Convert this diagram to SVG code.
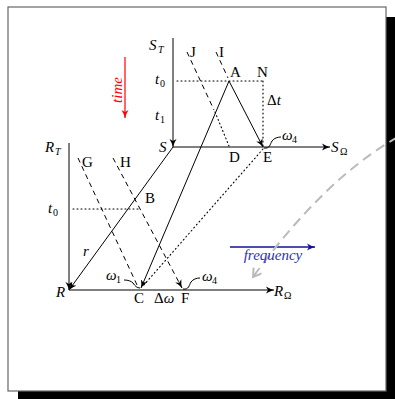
<svg xmlns="http://www.w3.org/2000/svg" width="395" height="399" viewBox="0 0 395 399">
<style>
  text { font-family: "Liberation Serif", "DejaVu Serif", serif; font-size: 15px; fill: #000; }
  .it { font-style: italic; }
  .sub { font-size: 10px; }
  .ln { stroke: #000; stroke-width: 1; fill: none; }
  .dash { stroke: #000; stroke-width: 1; fill: none; stroke-dasharray: 5 4; }
  .dot { stroke: #000; stroke-width: 1.1; fill: none; stroke-dasharray: 1 3; stroke-linecap: round; }
</style>
<defs>
  <marker id="ah" markerWidth="10" markerHeight="8" refX="8" refY="4" orient="auto" markerUnits="userSpaceOnUse">
    <path d="M0,0.5 Q4,3 8,4 Q4,5 0,7.5 L2,4 Z" fill="#000"/>
  </marker>
  <marker id="ahr" markerWidth="10" markerHeight="8" refX="8" refY="4" orient="auto" markerUnits="userSpaceOnUse">
    <path d="M0,0.5 Q4,3 8,4 Q4,5 0,7.5 L2,4 Z" fill="#ff0000"/>
  </marker>
  <marker id="ahb" markerWidth="10" markerHeight="8" refX="8" refY="4" orient="auto" markerUnits="userSpaceOnUse">
    <path d="M0,0.5 Q4,3 8,4 Q4,5 0,7.5 L2,4 Z" fill="#10109a"/>
  </marker>
  <marker id="ahg" markerWidth="12" markerHeight="12" refX="9" refY="5" orient="auto" markerUnits="userSpaceOnUse">
    <path d="M1,0 L9,5 L1,10" fill="none" stroke="#bbbbbb" stroke-width="2"/>
  </marker>
</defs>

<!-- frame with shadow -->
<g id="frame">
  <rect x="18" y="17" width="378" height="384" fill="#000"/>
  <rect x="8" y="7" width="378" height="384" fill="#fff" stroke="#666" stroke-width="1.2"/>
</g>

<!-- connectors -->
<g id="connectors">
  <line class="ln" x1="173" y1="38" x2="173" y2="147" marker-end="url(#ah)"/>
  <line class="ln" x1="173" y1="147" x2="330" y2="147" marker-end="url(#ah)"/>
  <line class="ln" x1="69" y1="143" x2="69" y2="290" marker-end="url(#ah)"/>
  <line class="ln" x1="69" y1="290" x2="274" y2="290" marker-end="url(#ah)"/>
  <line class="ln" x1="173" y1="147" x2="69" y2="290" marker-end="url(#ah)"/>
  <line class="ln" x1="229" y1="81" x2="141" y2="288" marker-end="url(#ah)"/>
  <line class="ln" x1="229" y1="81" x2="263" y2="147" marker-end="url(#ah)"/>
  <line class="dot" x1="177" y1="81" x2="263" y2="81"/>
  <line class="dot" x1="263" y1="81" x2="263" y2="146"/>
  <line class="dot" x1="73" y1="209" x2="140" y2="209"/>
  <line class="dot" x1="263" y1="149" x2="143" y2="286"/>
  <line class="dash" x1="187" y1="52" x2="214" y2="110"/>
  <line class="dot" x1="215" y1="112" x2="229" y2="146"/>
  <line class="dash" x1="216" y1="52" x2="228" y2="78"/>
  <line class="dash" x1="78" y1="158" x2="138" y2="287"/>
  <line class="dash" x1="113" y1="158" x2="182" y2="288" marker-end="url(#ah)"/>
  <!-- squiggles -->
  <path class="ln" d="M264,148 C270,149 270,144 272,141 C274,138 278,137 281,137"/>
  <path class="ln" d="M183,289 C189,290 189,285 191,282 C193,279 197,278 200,278"/>
  <path class="ln" d="M124,280 C128,280 131,281 133,283 C135,286 137,288 140,288"/>
  <!-- time arrow -->
  <line x1="125" y1="57" x2="125" y2="118" stroke="#ff0000" stroke-width="1.2" marker-end="url(#ahr)"/>
  <!-- frequency arrow -->
  <line x1="230" y1="247" x2="315" y2="247" stroke="#10109a" stroke-width="1.4" marker-end="url(#ahb)"/>
  <!-- gray dashed curve -->
  <path d="M398,137 Q325,178 253,277" fill="none" stroke="#bbbbbb" stroke-width="2" stroke-dasharray="10 6" marker-end="url(#ahg)"/>
</g>

<!-- labels -->
<g id="labels">
  <g id="ST"><text class="it" x="149" y="50">S</text><text class="it sub" x="158" y="53">T</text></g>
  <g id="J"><text x="190" y="57">J</text></g>
  <g id="I"><text x="219" y="57">I</text></g>
  <g id="t0a"><text class="it" x="155" y="84">t</text><text class="sub" x="160" y="87">0</text></g>
  <g id="A"><text x="230" y="77">A</text></g>
  <g id="N"><text x="257" y="77">N</text></g>
  <g id="dt"><text x="267" y="105">Δ<tspan class="it">t</tspan></text></g>
  <g id="t1"><text class="it" x="155" y="120">t</text><text class="sub" x="160" y="123">1</text></g>
  <g id="S"><text class="it" x="159" y="152">S</text></g>
  <g id="w4E"><text class="it" x="282" y="140">ω</text><text class="sub" x="292" y="143">4</text></g>
  <g id="D"><text x="229" y="162">D</text></g>
  <g id="E"><text x="263" y="162">E</text></g>
  <g id="SO"><text class="it" x="331" y="152">S</text><text class="sub" x="340" y="155">Ω</text></g>
  <g id="RT"><text class="it" x="45" y="152">R</text><text class="it sub" x="55" y="155">T</text></g>
  <g id="G"><text x="82" y="167">G</text></g>
  <g id="H"><text x="120" y="167">H</text></g>
  <g id="B"><text x="145" y="203">B</text></g>
  <g id="t0b"><text class="it" x="48" y="213">t</text><text class="sub" x="53" y="216">0</text></g>
  <g id="r"><text class="it" x="83" y="256">r</text></g>
  <g id="w1"><text class="it" x="106" y="280">ω</text><text class="sub" x="116" y="283">1</text></g>
  <g id="w4F"><text class="it" x="202" y="281">ω</text><text class="sub" x="212" y="284">4</text></g>
  <g id="R"><text class="it" x="56" y="297">R</text></g>
  <g id="C"><text x="134" y="303">C</text></g>
  <g id="dw"><text x="154" y="303">Δ<tspan class="it">ω</tspan></text></g>
  <g id="F"><text x="181" y="303">F</text></g>
  <g id="RO"><text class="it" x="274" y="296">R</text><text class="sub" x="284" y="299">Ω</text></g>
  <g id="freq"><text class="it" x="273" y="260" text-anchor="middle" style="fill:#3030b0">frequency</text></g>
  <g id="time"><text class="it" transform="translate(122,90) rotate(-90)" text-anchor="middle" style="fill:#ff0000">time</text></g>
</g>
</svg>
